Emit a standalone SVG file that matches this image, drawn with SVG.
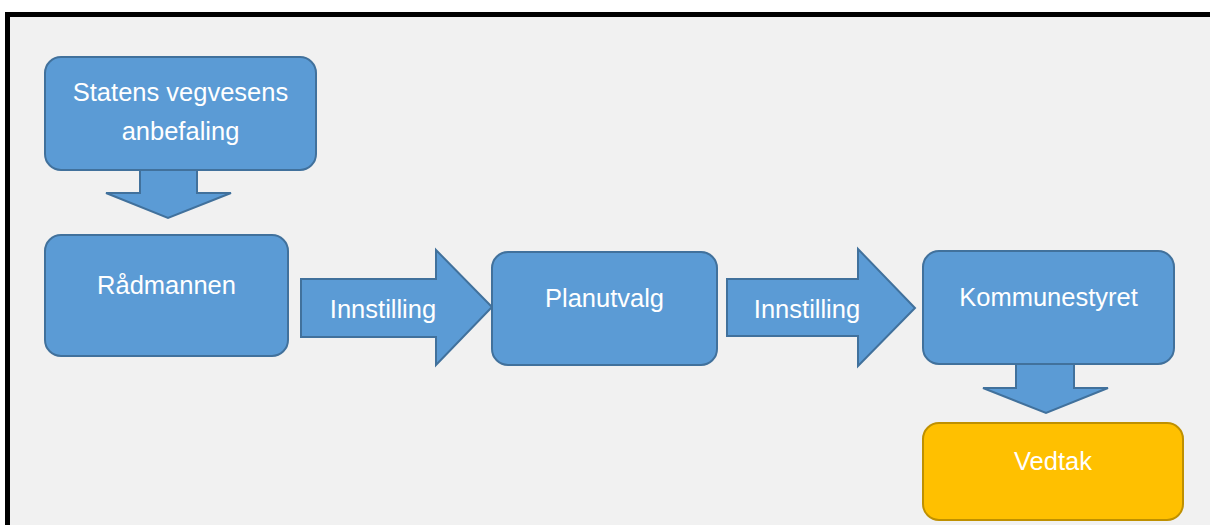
<svg xmlns="http://www.w3.org/2000/svg" width="1210" height="525" viewBox="0 0 1210 525">
<style>
.box{fill:#5b9bd5;stroke:#41719c;stroke-width:2}
.gold{fill:#ffc000;stroke:#bf9000;stroke-width:2}
.arr{fill:#5b9bd5;stroke:#41719c;stroke-width:2;stroke-linejoin:miter}
text{font-family:"Liberation Sans",Arial,sans-serif;font-size:25.5px;fill:#ffffff;text-anchor:middle}
</style>
<rect x="0" y="0" width="1210" height="525" fill="#ffffff"/>
<rect x="7.5" y="14.5" width="1300" height="600" fill="#f1f1f1" stroke="#000000" stroke-width="5"/>
<g id="connectors">
<path class="arr" d="M140,170 L197,170 L197,193 L231,193 L168,218 L106,193 L140,193 Z"/>
<g id="arrow-innstilling-1">
<path class="arr" d="M301,279 L436,279 L436,250 L492,307 L436,365 L436,337 L301,337 Z"/>
<text x="383" y="318">Innstilling</text>
</g>
<g id="arrow-innstilling-2">
<path class="arr" d="M727,279 L858,279 L858,249 L915,308 L858,366 L858,336 L727,336 Z"/>
<text x="807" y="318">Innstilling</text>
</g>
<path class="arr" d="M1016,364 L1074,364 L1074,388 L1108,388 L1046,413 L983,388 L1016,388 Z"/>
</g>
<g id="statens">
<rect class="box" x="45" y="57" width="271" height="113" rx="16"/>
<text x="180.5" y="101">Statens vegvesens</text>
<text x="180.5" y="140">anbefaling</text>
</g>
<g id="radmannen">
<rect class="box" x="45" y="235" width="243" height="121" rx="16"/>
<text x="166.5" y="294">Rådmannen</text>
</g>
<g id="planutvalg">
<rect class="box" x="492" y="252" width="225" height="113" rx="16"/>
<text x="604.5" y="307">Planutvalg</text>
</g>
<g id="kommunestyret">
<rect class="box" x="923" y="251" width="251" height="113" rx="16"/>
<text x="1048.5" y="306">Kommunestyret</text>
</g>
<g id="vedtak">
<rect class="gold" x="923" y="423" width="260" height="97" rx="16"/>
<text x="1053" y="470">Vedtak</text>
</g>
</svg>
